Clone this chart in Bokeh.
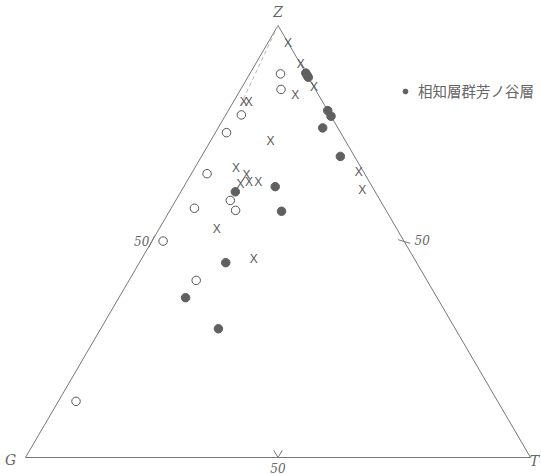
import numpy as np
from bokeh.plotting import figure
from bokeh.models import Range1d, Legend, LegendItem
from bokeh.core.properties import value
from bokeh.embed import file_html
from bokeh.resources import INLINE

# Ternary compositions (G, T, Z) in percent
filled_G = [0, 0, 0, 0, 0, 3.0, 2.8, 19.2, 20.8, 27.7, 37.8, 49.8, 46.9]
filled_T = [11.0, 11.5, 12.0, 19.7, 21.0, 20.7, 27.5, 18.1, 22.2, 10.8, 17.1, 13.2, 23.3]
filled_Z = [89.0, 88.5, 88.0, 80.3, 79.0, 76.3, 69.7, 62.7, 57.0, 61.5, 45.1, 37.0, 29.8]

open_G = [5.1, 6.8, 17.6, 22.6, 31.2, 29.7, 29.8, 37.7, 47.7, 45.7, 83.5]
open_T = [6.1, 8.0, 3.1, 2.2, 3.1, 10.8, 13.0, 4.6, 2.2, 13.3, 3.5]
open_Z = [88.8, 85.2, 79.3, 75.2, 65.7, 59.5, 57.2, 57.7, 50.1, 41.0, 13.0]

x_G = [0, 0, 0, 4.7, 15.7, 14.7, 14.9, 24.8, 23.5, 25.8, 23.9, 22.0, 35.7, 31.8, 1.0, 2.3]
x_T = [4.0, 9.0, 14.3, 11.4, 2.1, 3.1, 11.9, 8.2, 11.0, 10.9, 12.4, 14.2, 11.4, 22.2, 33.0, 35.7]
x_Z = [96.0, 91.0, 85.7, 84.0, 82.2, 82.2, 73.2, 67.0, 65.5, 63.3, 63.7, 63.8, 52.9, 46.0, 66.0, 62.0]

vertex_labels = ["G", "T", "Z"]
tick_label = "50"
legend_label = "相知層群芳ノ谷層"

H = 0.866


def to_xy(G, T, Z):
    T = np.asarray(T, float)
    Z = np.asarray(Z, float)
    return T / 100 + Z / 200, Z / 100 * H


W, HH = 541, 474
SX, SY = 505.0, 498.85
p = figure(width=W, height=HH, output_backend="svg", toolbar_location=None,
           x_range=Range1d(-25 / SX, (W - 25) / SX),
           y_range=Range1d(-(HH - 457) / SY, 457 / SY),
           x_axis_location=None, y_axis_location=None, min_border=0)
p.grid.visible = False
p.outline_line_color = None
p.background_fill_color = "white"

LC = "#777777"

# triangle
vx, vy = to_xy([100, 0, 0], [0, 100, 0], [0, 0, 100])
p.line(list(vx) + [vx[0]], list(vy) + [vy[0]], line_color=LC, line_width=1)

# faint dashed guide inside left edge
gx, gy = to_xy([0, 16.7], [0, 1.8], [100, 81.5])
p.line(gx, gy, line_color="#b8b8b8", line_width=1, line_dash="4 3")

# ticks at 50 on each edge
tx, ty = to_xy([50, 50, 0], [0, 50, 50], [50, 0, 50])
d = 0.012
p.segment(x0=[tx[0] - d * 0.5, tx[1] - d * 0.7, tx[2] - d],
          y0=[ty[0] - d, ty[1] + d * 1.2, ty[2] + d * 0.3],
          x1=[tx[0] + d * 0.5, tx[1], tx[2] + d],
          y1=[ty[0] + d, ty[1], ty[2] - d * 0.3],
          line_color=LC, line_width=1)
p.segment(x0=[tx[1]], y0=[ty[1]], x1=[tx[1] + d * 0.7], y1=[ty[1] + d * 1.2],
          line_color=LC, line_width=1)

fx, fy = to_xy(filled_G, filled_T, filled_Z)
ox, oy = to_xy(open_G, open_T, open_Z)
xx, xy = to_xy(x_G, x_T, x_Z)

r_filled = p.scatter(fx, fy, marker="circle", size=8.5, fill_color="#606060",
                     line_color="#606060")
p.scatter(ox, oy, marker="circle", size=8.5, fill_color=None, line_color="#555555",
          line_width=1)
p.text(xx, xy, text=["X"] * len(xx), text_font=value("Liberation Sans"),
       text_font_size="12px", text_color="#5a5a5a", text_align="center",
       text_baseline="middle")

lab = dict(text_font=value("DejaVu Serif"), text_font_style="italic",
           text_color="#666666", text_align="center", text_baseline="middle")
# vertex labels
p.text([vx[0]], [vy[0]], text=[vertex_labels[0]], x_offset=-15, y_offset=2,
       text_font_size="14px", **lab)
p.text([vx[1]], [vy[1]], text=[vertex_labels[1]], x_offset=4, y_offset=3,
       text_font_size="14px", **lab)
p.text([vx[2]], [vy[2]], text=[vertex_labels[2]], x_offset=0, y_offset=-13,
       text_font_size="14px", **lab)

# tick labels
p.text([tx[0]], [ty[0]], text=[tick_label], x_offset=-10, y_offset=0,
       text_font_size="12px", **lab)
p.text([tx[2]], [ty[2]], text=[tick_label], x_offset=18, y_offset=-1,
       text_font_size="12px", **lab)
p.text([tx[1]], [ty[1]], text=[tick_label], x_offset=0, y_offset=10,
       text_font_size="12px", **lab)

legend = Legend(items=[LegendItem(label=legend_label, renderers=[r_filled])],
                location=(399, 373), border_line_color=None,
                background_fill_alpha=0, padding=0, margin=0, spacing=0,
                glyph_width=12, glyph_height=16, label_standoff=7,
                label_text_font="Noto Sans CJK JP", label_text_font_size="14.5px",
                label_text_color="#666666", label_height=16)
p.add_layout(legend)

open("out.html", "w").write(file_html(p, INLINE))
